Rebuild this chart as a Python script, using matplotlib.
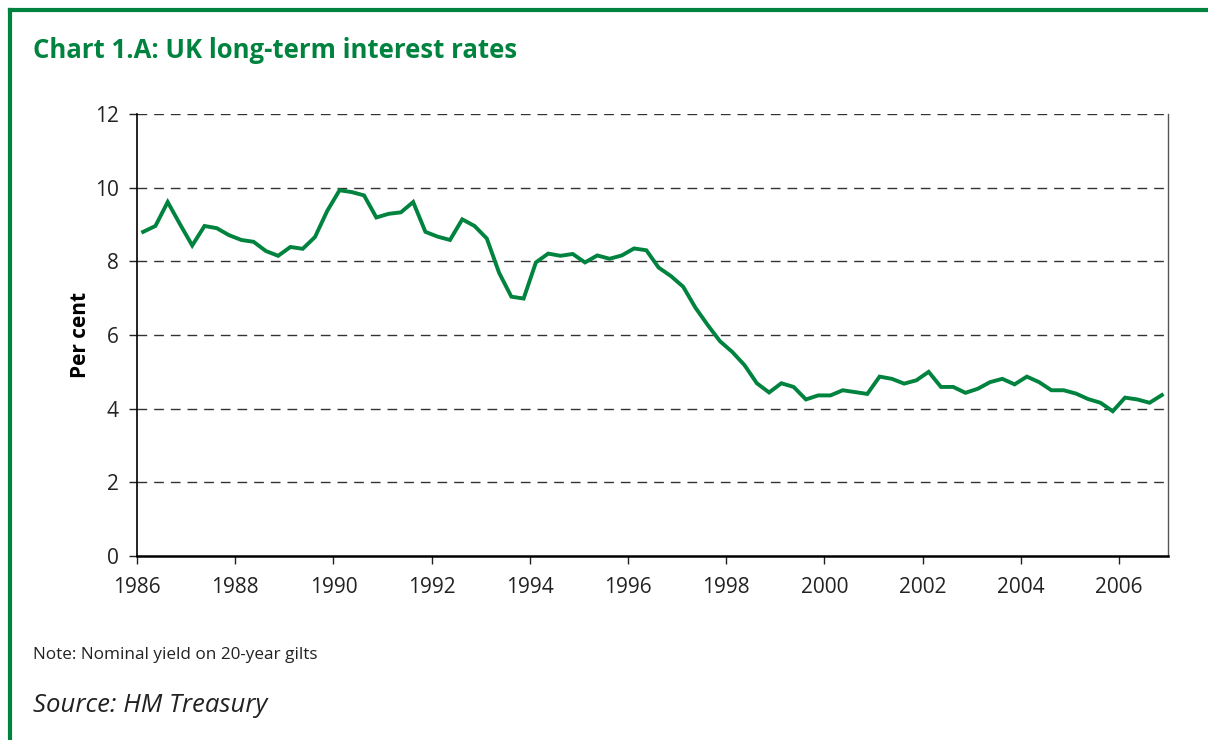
import matplotlib.pyplot as plt
import numpy as np
from matplotlib.lines import Line2D

# quarterly nominal yield on 20-year gilts, 1986 Q1 - 2006 Q4
years = list(range(1986, 2007))
rates = [
    8.80, 8.96, 9.61, 9.01,   # 1986
    8.43, 8.96, 8.90, 8.71,   # 1987
    8.58, 8.53, 8.28, 8.15,   # 1988
    8.39, 8.34, 8.66, 9.37,   # 1989
    9.93, 9.88, 9.79, 9.19,   # 1990
    9.29, 9.33, 9.61, 8.80,   # 1991
    8.67, 8.58, 9.14, 8.96,   # 1992
    8.62, 7.69, 7.04, 6.99,   # 1993
    7.97, 8.21, 8.15, 8.20,   # 1994
    7.97, 8.16, 8.07, 8.16,   # 1995
    8.35, 8.30, 7.83, 7.60,   # 1996
    7.31, 6.74, 6.27, 5.83,   # 1997
    5.54, 5.18, 4.69, 4.44,   # 1998
    4.69, 4.59, 4.25, 4.36,   # 1999
    4.36, 4.50, 4.45, 4.40,   # 2000
    4.87, 4.81, 4.68, 4.77,   # 2001
    5.00, 4.59, 4.59, 4.43,   # 2002
    4.54, 4.72, 4.81, 4.66,   # 2003
    4.87, 4.72, 4.50, 4.50,   # 2004
    4.41, 4.26, 4.16, 3.93,   # 2005
    4.30, 4.25, 4.16, 4.37,   # 2006
]
quarters = [y + (q + 0.5) / 4 for y in years for q in range(4)]
x_ticks = list(range(1986, 2007, 2))
y_ticks = list(range(0, 13, 2))

green = "#00833E"
plt.rcParams["font.family"] = ["Open Sans", "DejaVu Sans"]

fig = plt.figure(figsize=(12.08, 7.40), dpi=100)
ax = fig.add_axes([137 / 1208, 1 - 556 / 740, (1168 - 137) / 1208, (556 - 114) / 740])

ax.plot(quarters, rates, color=green, lw=2.8, solid_joinstyle="miter", zorder=3)

ax.set_xlim(1986, 2007)
ax.set_ylim(0, 12)
ax.set_xticks(x_ticks)
ax.set_yticks(y_ticks)
ax.tick_params(labelsize=15, length=6, width=1, colors="#222222")
ax.tick_params(axis="x", pad=9)
ax.tick_params(axis="y", pad=7)
for y in y_ticks[1:]:
    ax.axhline(y, color="#333333", lw=1, dashes=(7, 5), zorder=1)

ax.spines["top"].set_visible(False)
ax.spines["right"].set_color("#555555")
ax.spines["right"].set_linewidth(1)
ax.spines["left"].set_linewidth(1.2)
ax.spines["bottom"].set_linewidth(1.8)
ax.set_ylabel("Per cent", fontsize=15, fontweight="bold", labelpad=3)

# frame and captions
fig.add_artist(Line2D([10 / 1208, 1], [1 - 10 / 740] * 2, color=green, lw=3,
                      transform=fig.transFigure))
fig.add_artist(Line2D([10 / 1208] * 2, [0, 1 - 10 / 740], color=green, lw=3,
                      transform=fig.transFigure))
fig.text(33 / 1208, 1 - 50 / 740, "Chart 1.A: UK long-term interest rates",
         color=green, fontsize=18.5, fontweight="bold", va="center")
fig.text(33 / 1208, 1 - 655 / 740, "Note: Nominal yield on 20-year gilts",
         fontsize=12.3, color="#222222", va="center")
fig.text(33 / 1208, 1 - 705 / 740, "Source: HM Treasury",
         fontsize=18.5, style="italic", color="#222222", va="center")

fig.savefig("out.png", dpi=100)
